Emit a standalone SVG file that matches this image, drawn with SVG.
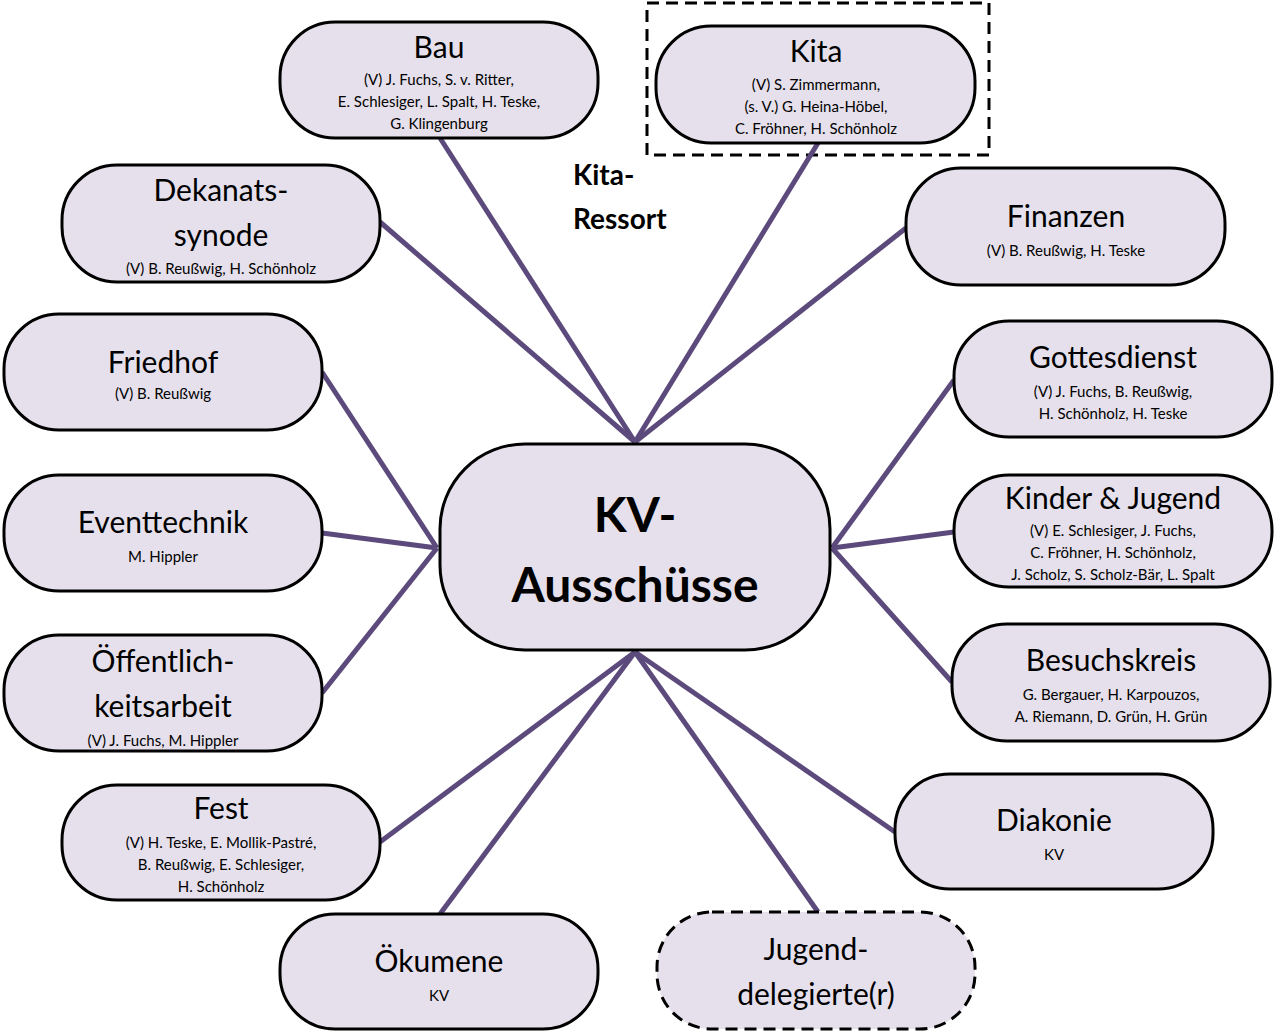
<svg xmlns="http://www.w3.org/2000/svg" width="1276" height="1033" viewBox="0 0 1276 1033">
<style>
.n{fill:#e6e0ec;stroke:#000;stroke-width:3}
.d{stroke-dasharray:12 7}
.t{font-family:Lato,"Open Sans",sans-serif;font-size:30px;text-anchor:middle;fill:#000}
.s{font-family:Lato,"Open Sans",sans-serif;font-size:15px;text-anchor:middle;fill:#000}
.c line{stroke:#5b4a7b;stroke-width:5}
</style>
<rect x="647" y="3" width="342" height="152" fill="none" stroke="#000" stroke-width="3" stroke-dasharray="12 7"/>
<g class="c" id="connectors">
<line x1="635" y1="442" x2="440" y2="138"/><line x1="635" y1="442" x2="818" y2="143"/>
<line x1="635" y1="442" x2="380" y2="222"/><line x1="635" y1="442" x2="906" y2="228"/>
<line x1="437" y1="548" x2="322" y2="372"/><line x1="437" y1="548" x2="322" y2="533"/><line x1="437" y1="548" x2="322" y2="693"/>
<line x1="832" y1="548" x2="954" y2="380"/><line x1="832" y1="548" x2="954" y2="532"/><line x1="832" y1="548" x2="952" y2="682"/>
<line x1="635" y1="652" x2="380" y2="842"/><line x1="635" y1="652" x2="440" y2="914"/><line x1="635" y1="652" x2="818" y2="912"/><line x1="635" y1="652" x2="895" y2="832"/>
</g>
<g id="center"><rect class="n" x="440" y="444" width="390" height="206" rx="85"/>
<text x="635" y="532" font-family="Lato,sans-serif" font-weight="bold" font-size="48" text-anchor="middle">KV-</text>
<text x="635" y="602" font-family="Lato,sans-serif" font-weight="bold" font-size="48" text-anchor="middle">Ausschüsse</text></g>
<text x="573" y="185" font-family="Lato,sans-serif" font-weight="bold" font-size="28">Kita-</text>
<text x="573" y="229" font-family="Lato,sans-serif" font-weight="bold" font-size="28">Ressort</text>
<g id="bau"><rect class="n" x="280" y="22" width="318" height="116" rx="55"/><text class="t" x="439" y="58">Bau</text>
<text class="s" x="439" y="85">(V) J. Fuchs, S. v. Ritter,</text><text class="s" x="439" y="107">E. Schlesiger, L. Spalt, H. Teske,</text><text class="s" x="439" y="129">G. Klingenburg</text></g>
<g id="kita"><rect class="n" x="656" y="26" width="319" height="117" rx="55"/><text class="t" x="816" y="62">Kita</text>
<text class="s" x="816" y="90">(V) S. Zimmermann,</text><text class="s" x="816" y="112">(s. V.) G. Heina-Höbel,</text><text class="s" x="816" y="134">C. Fröhner, H. Schönholz</text></g>
<g id="dekanat"><rect class="n" x="62" y="165" width="318" height="117" rx="55"/><text class="t" x="221" y="201">Dekanats-</text><text class="t" x="221" y="246">synode</text>
<text class="s" x="221" y="274">(V) B. Reußwig, H. Schönholz</text></g>
<g id="finanzen"><rect class="n" x="906" y="168" width="319" height="117" rx="55"/><text class="t" x="1066" y="227">Finanzen</text>
<text class="s" x="1066" y="256">(V) B. Reußwig, H. Teske</text></g>
<g id="friedhof"><rect class="n" x="4" y="314" width="318" height="116" rx="55"/><text class="t" x="163" y="373">Friedhof</text>
<text class="s" x="163" y="399">(V) B. Reußwig</text></g>
<g id="gottesdienst"><rect class="n" x="954" y="321" width="318" height="116" rx="55"/><text class="t" x="1113" y="368">Gottesdienst</text>
<text class="s" x="1113" y="397">(V) J. Fuchs, B. Reußwig,</text><text class="s" x="1113" y="419">H. Schönholz, H. Teske</text></g>
<g id="eventtechnik"><rect class="n" x="4" y="475" width="318" height="116" rx="55"/><text class="t" x="163" y="533">Eventtechnik</text>
<text class="s" x="163" y="562">M. Hippler</text></g>
<g id="kinder"><rect class="n" x="954" y="475" width="318" height="112" rx="55"/><text class="t" x="1113" y="509">Kinder &amp; Jugend</text>
<text class="s" x="1113" y="536">(V) E. Schlesiger, J. Fuchs,</text><text class="s" x="1113" y="558">C. Fröhner, H. Schönholz,</text><text class="s" x="1113" y="580">J. Scholz, S. Scholz-Bär, L. Spalt</text></g>
<g id="oeffentlich"><rect class="n" x="4" y="635" width="318" height="116" rx="55"/><text class="t" x="163" y="672">Öffentlich-</text><text class="t" x="163" y="717">keitsarbeit</text>
<text class="s" x="163" y="746">(V) J. Fuchs, M. Hippler</text></g>
<g id="besuch"><rect class="n" x="952" y="624" width="318" height="117" rx="55"/><text class="t" x="1111" y="671">Besuchskreis</text>
<text class="s" x="1111" y="700">G. Bergauer, H. Karpouzos,</text><text class="s" x="1111" y="722">A. Riemann, D. Grün, H. Grün</text></g>
<g id="fest"><rect class="n" x="62" y="785" width="318" height="115" rx="55"/><text class="t" x="221" y="819">Fest</text>
<text class="s" x="221" y="848">(V) H. Teske, E. Mollik-Pastré,</text><text class="s" x="221" y="870">B. Reußwig, E. Schlesiger,</text><text class="s" x="221" y="892">H. Schönholz</text></g>
<g id="diakonie"><rect class="n" x="895" y="774" width="318" height="115" rx="55"/><text class="t" x="1054" y="831">Diakonie</text>
<text class="s" x="1054" y="860">KV</text></g>
<g id="oekumene"><rect class="n" x="280" y="914" width="318" height="115" rx="55"/><text class="t" x="439" y="972">Ökumene</text>
<text class="s" x="439" y="1001">KV</text></g>
<g id="jugenddel"><rect class="n d" x="657" y="912" width="318" height="117" rx="55"/><text class="t" x="816" y="960">Jugend-</text><text class="t" x="816" y="1005">delegierte(r)</text></g>
</svg>
